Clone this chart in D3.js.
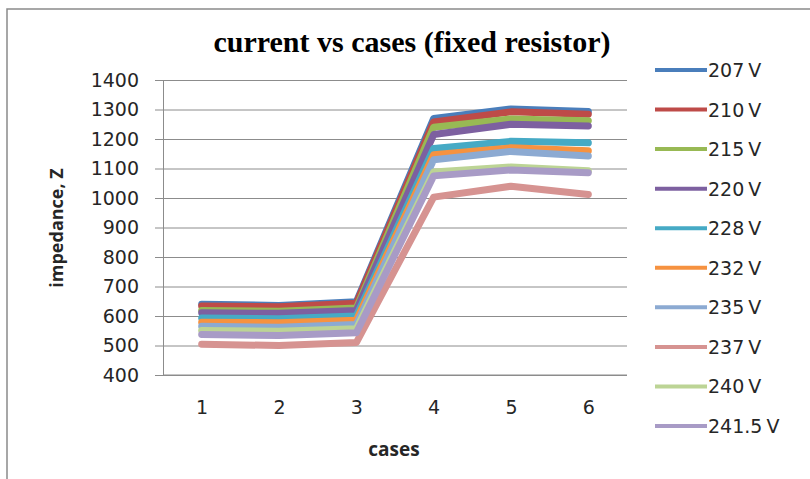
<!DOCTYPE html>
<html>
<head>
<meta charset="utf-8">
<script src="https://cdn.jsdelivr.net/npm/d3@7"></script>
<style>
  html, body { margin: 0; padding: 0; background: #fff; }
  svg { display: block; }
</style>
</head>
<body>
<svg id="chart" width="810" height="479"></svg>
<script>
// ---- data ----
const cases = [1, 2, 3, 4, 5, 6];
const yTicks = [400, 500, 600, 700, 800, 900, 1000, 1100, 1200, 1300, 1400];
const seriesNames = ["207 V", "210 V", "215 V", "220 V", "228 V", "232 V", "235 V", "237 V", "240 V", "241.5 V"];
const v207  = [640, 636, 648, 1270, 1302, 1293];
const v210  = [634, 631, 643, 1258, 1292, 1284];
const v215  = [619, 616, 627, 1240, 1268, 1262];
const v220  = [611, 609, 619, 1215, 1250, 1244];
const v228  = [593, 591, 600, 1168, 1192, 1187];
const v232  = [579, 577, 586, 1147, 1170, 1160];
const v235  = [565, 562, 571, 1130, 1158, 1142];
const v237  = [504, 500, 510, 1003, 1040, 1012];
const v240  = [551, 548, 557, 1088, 1105, 1092];
const v2415 = [537, 534, 543, 1075, 1095, 1086];
const seriesValues = [v207, v210, v215, v220, v228, v232, v235, v237, v240, v2415];
const seriesColors = ["#4a7ebb", "#be4b48", "#98b954", "#7d60a0", "#46aac5", "#f69240", "#8caad2", "#d69391", "#bcd495", "#a89bc6"];

// ---- layout ----
const svg = d3.select("#chart");
const plot = { left: 163, right: 627, top: 80, bottom: 375 };
const textColor = "#262626";
const gridColor = "#8c8c8c";

const x = d3.scalePoint().domain(cases).range([plot.left, plot.right]).padding(0.5);
const y = d3.scaleLinear().domain([400, 1400]).range([plot.bottom, plot.top]);

// outer frame
svg.append("path")
  .attr("d", `M7,479 L7,9 L810,9`)
  .attr("fill", "none").attr("stroke", "#8a8a8a").attr("stroke-width", 1.5);

// title
svg.append("text")
  .attr("x", 412).attr("y", 52)
  .attr("text-anchor", "middle")
  .attr("font-family", "'Liberation Serif', 'Times New Roman', serif")
  .attr("font-weight", "bold").attr("font-size", 30)
  .attr("fill", "#000")
  .text("current vs cases (fixed resistor)");

// y axis with gridlines
const yAxis = d3.axisLeft(y).tickValues(yTicks).tickSize(8).tickPadding(16).tickFormat(d3.format("d"));
const gy = svg.append("g").attr("transform", `translate(${plot.left},0)`).call(yAxis);
gy.select(".domain").attr("stroke", gridColor);
gy.selectAll(".tick line").attr("stroke", gridColor);
gy.selectAll(".tick text")
  .attr("font-family", "'DejaVu Sans', Verdana, sans-serif")
  .attr("font-size", 19).attr("fill", textColor);
gy.selectAll(".tick").append("line")
  .attr("x1", 0).attr("x2", plot.right - plot.left)
  .attr("stroke", gridColor).attr("stroke-width", 1);

// x axis (labels only)
const xAxis = d3.axisBottom(x).tickSize(0).tickPadding(26);
const gx = svg.append("g").attr("transform", `translate(0,${plot.bottom})`).call(xAxis);
gx.select(".domain").attr("stroke", gridColor).attr("d", `M${plot.left},0H${plot.right}`);
gx.selectAll(".tick text")
  .attr("font-family", "'DejaVu Sans', Verdana, sans-serif")
  .attr("font-size", 19).attr("fill", textColor);

// axis titles
svg.append("text")
  .attr("x", 394).attr("y", 456)
  .attr("text-anchor", "middle")
  .attr("font-family", "'Open Sans', Calibri, sans-serif")
  .attr("font-weight", 700).attr("font-size", 19)
  .attr("fill", textColor)
  .text("cases");

svg.append("text")
  .attr("transform", "translate(63,228) rotate(-90)")
  .attr("text-anchor", "middle")
  .attr("font-family", "'Open Sans', Calibri, sans-serif")
  .attr("font-weight", 700).attr("font-size", 18)
  .attr("fill", textColor)
  .text("impedance, Z");

// lines
const line = d3.line().x((d, i) => x(cases[i])).y(d => y(d));
svg.append("g").selectAll("path")
  .data(seriesValues)
  .join("path")
  .attr("d", d => line(d))
  .attr("fill", "none")
  .attr("stroke", (d, i) => seriesColors[i])
  .attr("stroke-width", 7)
  .attr("stroke-linejoin", "round")
  .attr("stroke-linecap", "round");

// legend
const legend = svg.append("g");
const legendY = d3.scalePoint().domain(seriesNames).range([70, 426]);
const items = legend.selectAll("g").data(seriesNames).join("g")
  .attr("transform", d => `translate(0,${legendY(d)})`);
items.append("line")
  .attr("x1", 655).attr("x2", 707)
  .attr("stroke", (d, i) => seriesColors[i])
  .attr("stroke-width", 4);
items.append("text")
  .attr("x", 708).attr("y", 7)
  .attr("font-family", "'DejaVu Sans', Verdana, sans-serif")
  .attr("font-size", 19).attr("word-spacing", -2).attr("fill", textColor)
  .text(d => d);
</script>
</body>
</html>
